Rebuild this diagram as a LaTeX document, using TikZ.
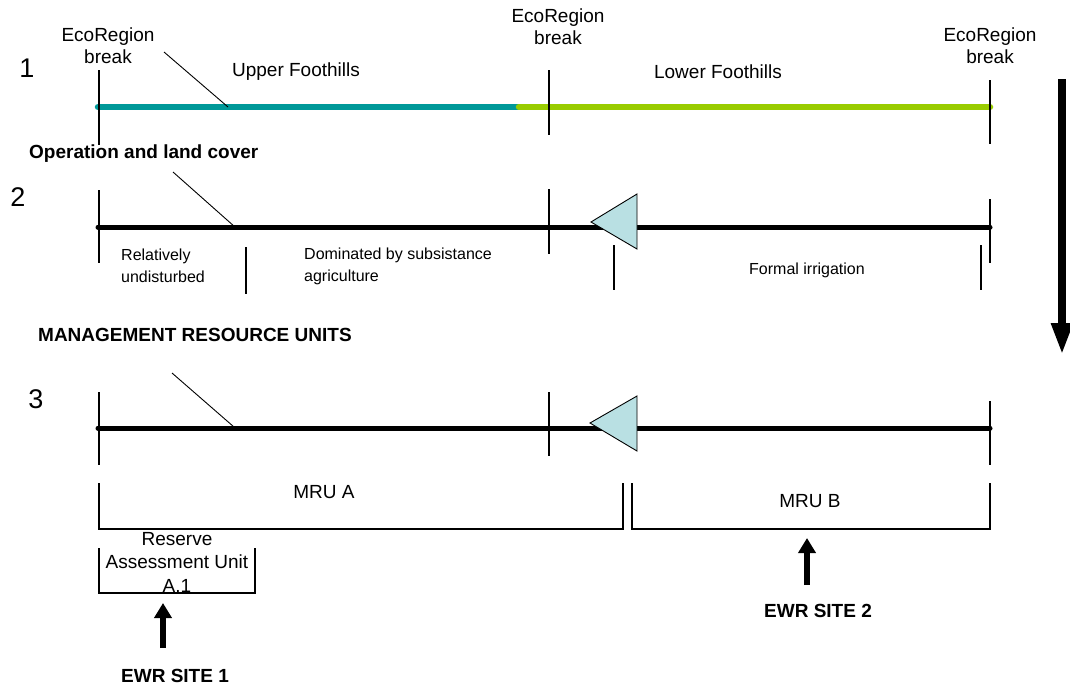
\documentclass[tikz,border=0pt]{standalone}
\usepackage{fontspec}
\setmainfont{Liberation Sans}
\usetikzlibrary{arrows.meta}
\definecolor{tealline}{HTML}{009999}
\definecolor{limeline}{HTML}{99CC00}
\definecolor{markerfill}{HTML}{B9E0E3}
\tikzset{
  big/.style={font=\fontsize{19}{22}\selectfont, inner sep=0pt, align=center},
  bigbold/.style={font=\fontsize{19}{22}\selectfont\bfseries, inner sep=0pt, align=center},
  small/.style={font=\fontsize{16}{22}\selectfont, inner sep=0pt, align=left},
  num/.style={font=\fontsize{27}{30}\selectfont, inner sep=0pt},
  tickline/.style={line width=1.1pt},
  mainline/.style={line width=5pt, line cap=round},
  colline/.style={line width=6.5pt, line cap=round},
  leader/.style={line width=0.9pt},
  marker/.style={draw=black, line width=0.9pt, fill=markerfill, line join=miter},
  bracket/.style={line width=1.1pt},
  ewrarrow/.style={line width=6pt, -{Triangle[length=15pt,width=17pt]}},
  bigarrow/.style={line width=8pt, -{Triangle[length=32pt,width=20pt]}}
}
\begin{document}
\begin{tikzpicture}[x=1pt,y=-1pt]
\useasboundingbox (0,0) rectangle (1070,689);

% ---------- Row 1 ----------
\node[num] (n1) at (27,68) {1};
\node[big] (eco1) at (108,46) {EcoRegion\\break};
\node[big] (eco2) at (558,27) {EcoRegion\\break};
\node[big] (eco3) at (990,46) {EcoRegion\\break};
\node[big] (upper) at (296,72) {Upper Foothills};
\node[big] (lower) at (718,72) {Lower Foothills};

\coordinate (r1a) at (98,107);
\coordinate (r1m) at (519,107);
\coordinate (r1b) at (990,107);
\draw[colline, tealline] (r1a) -- (r1m);
\draw[colline, limeline] (r1m) -- (r1b);

\coordinate (t1at) at (99,70);  \coordinate (t1ab) at (99,145);
\coordinate (t1bt) at (549,70); \coordinate (t1bb) at (549,135);
\coordinate (t1ct) at (990,80); \coordinate (t1cb) at (990,144);
\draw[tickline] (t1at) -- (t1ab);
\draw[tickline] (t1bt) -- (t1bb);
\draw[tickline] (t1ct) -- (t1cb);

\coordinate (l1s) at (164,52); \coordinate (l1e) at (228,107);
\draw[leader] (l1s) -- (l1e);

% ---------- Row 2 ----------
\node[bigbold, anchor=west] (oper) at (29,154) {Operation and land cover};
\node[num] (n2) at (18,197) {2};

\coordinate (r2a) at (98,227);
\coordinate (r2b) at (990,227);
\draw[mainline] (r2a) -- (r2b);

\coordinate (t2at) at (99,190);  \coordinate (t2ab) at (99,263);
\coordinate (t2bt) at (549,189); \coordinate (t2bb) at (549,254);
\coordinate (t2ct) at (990,199); \coordinate (t2cb) at (990,263);
\draw[tickline] (t2at) -- (t2ab);
\draw[tickline] (t2bt) -- (t2bb);
\draw[tickline] (t2ct) -- (t2cb);

\coordinate (l2s) at (173,172); \coordinate (l2e) at (235,227);
\draw[leader] (l2s) -- (l2e);

\draw[marker] (591,222) -- (637,194) -- (637,249) -- cycle;

\coordinate (s2at) at (246,247); \coordinate (s2ab) at (246,294);
\coordinate (s2bt) at (614,245); \coordinate (s2bb) at (614,290);
\coordinate (s2ct) at (981,245); \coordinate (s2cb) at (981,290);
\draw[tickline] (s2at) -- (s2ab);
\draw[tickline] (s2bt) -- (s2bb);
\draw[tickline] (s2ct) -- (s2cb);

\node[small, anchor=west] (reld) at (121,266) {Relatively\\undisturbed};
\node[small, anchor=west] (domin) at (304,266) {Dominated by subsistance\\agriculture};
\node[small] (formal) at (807,270) {Formal irrigation};

% ---------- Row 3 ----------
\node[bigbold, anchor=west] (mru) at (38,335) {MANAGEMENT RESOURCE UNITS};
\node[num] (n3) at (36,399) {3};

\coordinate (r3a) at (98,428);
\coordinate (r3b) at (990,428);
\draw[mainline] (r3a) -- (r3b);

\coordinate (t3at) at (99,392);  \coordinate (t3ab) at (99,465);
\coordinate (t3bt) at (549,392); \coordinate (t3bb) at (549,456);
\coordinate (t3ct) at (990,401); \coordinate (t3cb) at (990,465);
\draw[tickline] (t3at) -- (t3ab);
\draw[tickline] (t3bt) -- (t3bb);
\draw[tickline] (t3ct) -- (t3cb);

\coordinate (l3s) at (172,373); \coordinate (l3e) at (234,427);
\draw[leader] (l3s) -- (l3e);

\draw[marker] (590,423) -- (637,396) -- (637,451) -- cycle;

% brackets
\draw[bracket] (99,483) -- (99,529) -- (623,529) -- (623,483);
\draw[bracket] (632,483) -- (632,529) -- (990,529) -- (990,483);
\node[big] (mrua) at (324,492) {MRU A};
\node[big] (mrub) at (810,501) {MRU B};

\draw[bracket] (99,548) -- (99,593) -- (255,593) -- (255,548);
\node[big, font=\fontsize{19}{23.5}\selectfont] (rau) at (177,562) {Reserve\\Assessment Unit\\A.1};

% EWR arrows
\node[bigbold] (ewr1) at (175,676) {EWR SITE 1};
\node[bigbold] (ewr2) at (818,611) {EWR SITE 2};
\coordinate (e1t) at (163,648); \coordinate (e1h) at (163,603);
\coordinate (e2t) at (807,585); \coordinate (e2h) at (807,538);
\draw[ewrarrow] (e1t) -- (e1h);
\draw[ewrarrow] (e2t) -- (e2h);

% big downward arrow
\coordinate (bat) at (1062,79); \coordinate (bah) at (1062,355);
\draw[bigarrow] (bat) -- (bah);
\end{tikzpicture}
\end{document}
